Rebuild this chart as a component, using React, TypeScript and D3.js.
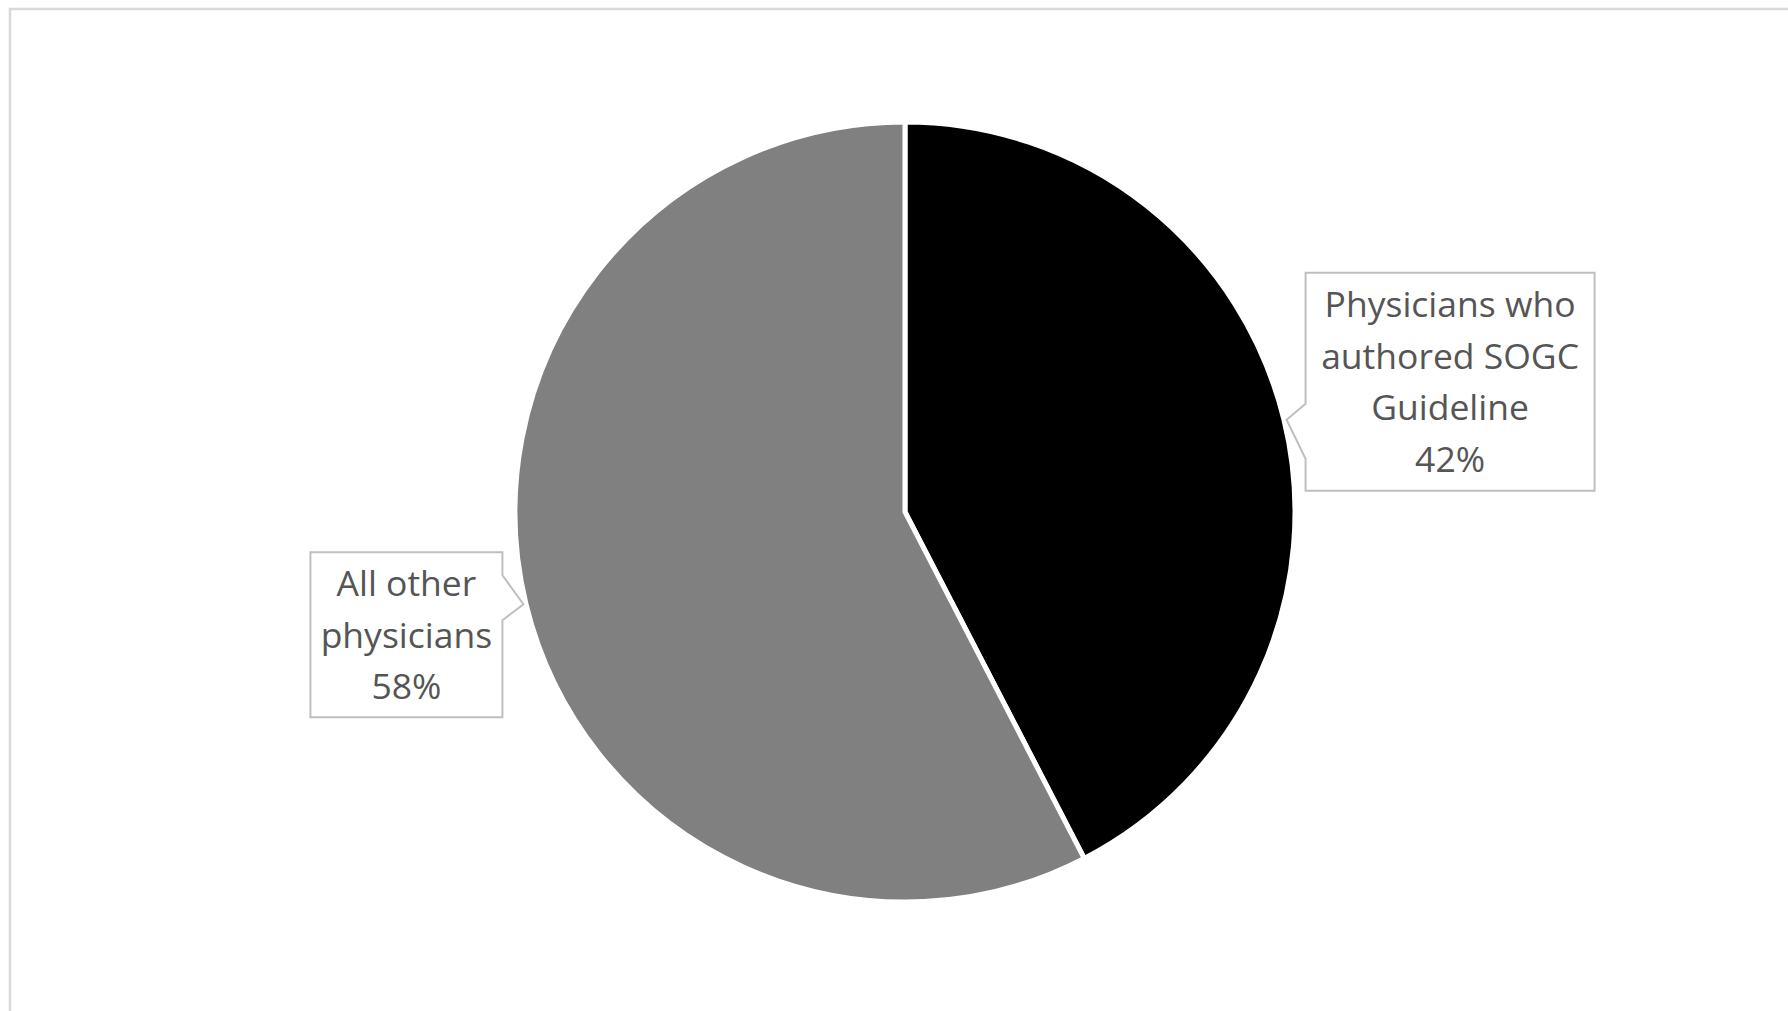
import React from "react";
import * as d3 from "d3";

const categories = ["Physicians who authored SOGC Guideline", "All other physicians"];
const values = [42.4, 57.6];
const labelLines = [["Physicians who", "authored SOGC", "Guideline"], ["All other", "physicians"]];
const sliceColors = ["#000000", "#808080"];

const W = 1788;
const H = 1011;
const cx = 905;
const cy = 512;
const R = 390;

type Box = { side: "right" | "left"; w: number; h: number; gap: number; topOff: number; p1: number; p2: number };
const boxes: Box[] = [
  { side: "right", w: 289, h: 218, gap: 19, topOff: 147, p1: -16, p2: 39 },
  { side: "left", w: 192, h: 165, gap: 21, topOff: 52, p1: -29, p2: 16 },
];

export default function App() {
  const pie = d3.pie<number>().sort(null).value((d) => d);
  const arcs = pie(values);
  const arcGen = d3.arc<d3.PieArcDatum<number>>().innerRadius(0).outerRadius(R);
  const total = d3.sum(values);
  const fontSize = 35.5;
  const lineH = 51.5;

  return (
    <svg width={W} height={H} style={{ position: "absolute", left: 0, top: 0, background: "#fff" }}>
      <rect x={10} y={9} width={W + 20} height={H + 20} fill="#fff" stroke="#d9d9d9" strokeWidth={2.5} />
      <g transform={`translate(${cx},${cy})`}>
        {arcs.map((a, i) => (
          <path key={i} d={arcGen(a) || ""} fill={sliceColors[i]} stroke="#fff" strokeWidth={5} strokeLinejoin="miter" />
        ))}
      </g>
      {arcs.map((a, i) => {
        const mid = (a.startAngle + a.endAngle) / 2;
        const tx = cx + R * 1.007 * Math.sin(mid);
        const ty = cy - R * 1.0 * Math.cos(mid);
        const b = boxes[i];
        const top = ty - b.topOff;
        const bottom = top + b.h;
        let x0: number, x1: number, d: string;
        if (b.side === "right") {
          x0 = tx + b.gap;
          x1 = x0 + b.w;
          d = `M${x0},${top}H${x1}V${bottom}H${x0}V${ty + b.p2}L${tx},${ty}L${x0},${ty + b.p1}Z`;
        } else {
          x1 = tx - b.gap;
          x0 = x1 - b.w;
          d = `M${x0},${top}H${x1}V${ty + b.p1}L${tx},${ty}L${x1},${ty + b.p2}V${bottom}H${x0}Z`;
        }
        const lines = [...labelLines[i], `${Math.round((values[i] / total) * 100)}%`];
        const textX = (x0 + x1) / 2;
        const nLines = lines.length;
        const firstBaseline = (top + bottom) / 2 - ((nLines - 1) * lineH) / 2 + fontSize * 0.36;
        return (
          <g key={"l" + i}>
            <path d={d} fill="#fff" stroke="#bfbfbf" strokeWidth={2} />
            <text
              x={textX}
              textAnchor="middle"
              fontFamily="'Open Sans', sans-serif"
              fontSize={fontSize}
              fill="#555555"
            >
              {lines.map((ln, j) => (
                <tspan key={j} x={textX} y={firstBaseline + j * lineH}>
                  {ln}
                </tspan>
              ))}
            </text>
          </g>
        );
      })}
    </svg>
  );
}
